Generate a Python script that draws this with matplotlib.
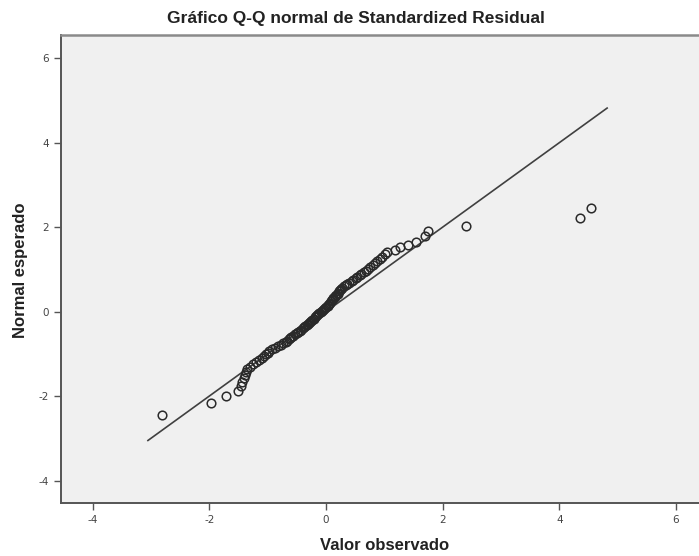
import matplotlib
matplotlib.use("Agg")
import matplotlib.pyplot as plt

title = "Gráfico Q-Q normal de Standardized Residual"
xlabel = "Valor observado"
ylabel = "Normal esperado"

# observed standardized residuals (x) and expected normal values (y)
observed = [
    -2.81, -1.97, -1.71, -1.51, -1.46, -1.43, -1.41, -1.39, -1.37, -1.35,
    -1.30, -1.25, -1.20, -1.15, -1.10, -1.06, -1.03, -1.00, -0.97, -0.92,
    -0.87, -0.82, -0.77, -0.73, -0.69, -0.66, -0.64, -0.62, -0.59, -0.56,
    -0.53, -0.50, -0.47, -0.45, -0.42, -0.40, -0.37, -0.35, -0.33, -0.31,
    -0.29, -0.27, -0.25, -0.23, -0.21, -0.19, -0.17, -0.15, -0.13, -0.11,
    -0.09,
    -0.06, -0.05, -0.03, -0.01, 0.01, 0.03, 0.04, 0.06, 0.07, 0.09,
    0.10, 0.12, 0.13, 0.15, 0.16, 0.18, 0.20, 0.21, 0.23, 0.25,
    0.26, 0.28, 0.31, 0.34, 0.37, 0.40, 0.44, 0.47, 0.51, 0.54,
    0.58, 0.61, 0.65, 0.68, 0.72, 0.76, 0.80, 0.84, 0.88, 0.92,
    0.96, 1.01, 1.04, 1.18, 1.27, 1.41, 1.55, 1.70, 1.75, 2.40,
    4.35, 4.54,
]
expected = [
    -2.44, -2.17, -2.00, -1.87, -1.76, -1.66, -1.58, -1.50, -1.43, -1.365,
    -1.305, -1.25, -1.195, -1.146, -1.099, -1.054, -1.012, -0.971, -0.932, -0.894,
    -0.857, -0.821, -0.786, -0.753, -0.720, -0.688, -0.657, -0.626, -0.596, -0.566,
    -0.537, -0.509, -0.480, -0.453, -0.425, -0.398, -0.371, -0.345, -0.319, -0.292,
    -0.266, -0.241, -0.215, -0.190, -0.164, -0.138, -0.113, -0.088, -0.063, -0.038,
    -0.013,
    0.013, 0.038, 0.063, 0.088, 0.113, 0.138, 0.164, 0.190, 0.215, 0.241,
    0.266, 0.292, 0.319, 0.345, 0.371, 0.398, 0.425, 0.453, 0.480, 0.509,
    0.537, 0.566, 0.596, 0.626, 0.657, 0.688, 0.720, 0.753, 0.786, 0.821,
    0.857, 0.894, 0.932, 0.971, 1.012, 1.054, 1.099, 1.146, 1.195, 1.250,
    1.305, 1.360, 1.410, 1.450, 1.530, 1.570, 1.650, 1.800, 1.900, 2.020,
    2.210, 2.450,
]
ref_line = [-3.05, 4.82]

xticks = [-4, -2, 0, 2, 4, 6]
yticks = [-4, -2, 0, 2, 4, 6]
tick_labels = ["-4", "-2", "0", "2", "4", "6"]

W, H = 699, 556
fig = plt.figure(figsize=(W / 100, H / 100), dpi=100)
fig.patch.set_facecolor("white")
ax = fig.add_axes([61 / W, 1 - 503 / H, 650 / W, (503 - 35) / H])
ax.set_facecolor("#f0f0f0")

ax.plot(ref_line, ref_line, color="#404040", lw=1.2, zorder=2)
ax.plot(observed, expected, linestyle="none", marker="o", markersize=6.2,
        markerfacecolor="none", markeredgecolor="#2a2a2a", markeredgewidth=1.1,
        zorder=3)

ax.set_xlim(-4.54, (711 - 326) / 58.33)
ax.set_ylim(-4.53, 6.55)
ax.set_xticks(xticks)
ax.set_xticklabels(tick_labels)
ax.set_yticks(yticks)
ax.set_yticklabels(tick_labels)
ax.tick_params(direction="out", length=5, width=1, color="#555555",
               labelsize=7.5, labelcolor="#444444")
for s in ["left", "bottom"]:
    ax.spines[s].set_color("#555555")
    ax.spines[s].set_linewidth(1.4)
ax.spines["top"].set_color("#8a8a8a")
ax.spines["top"].set_linewidth(1.8)
ax.spines["right"].set_visible(False)

fig.text(356 / W, 1 - 18 / H, title, ha="center", va="center",
         fontsize=12.5, fontweight="bold", color="#222222",
         family="Liberation Sans")
fig.text(385 / W, 1 - 546 / H, xlabel, ha="center", va="center",
         fontsize=12, fontweight="bold", color="#222222",
         family="Liberation Sans")
fig.text(21 / W, 1 - 270 / H, ylabel, ha="center", va="center",
         rotation=90, fontsize=12, fontweight="bold", color="#222222",
         family="Liberation Sans")

fig.savefig("out.png", dpi=100, facecolor="white")
